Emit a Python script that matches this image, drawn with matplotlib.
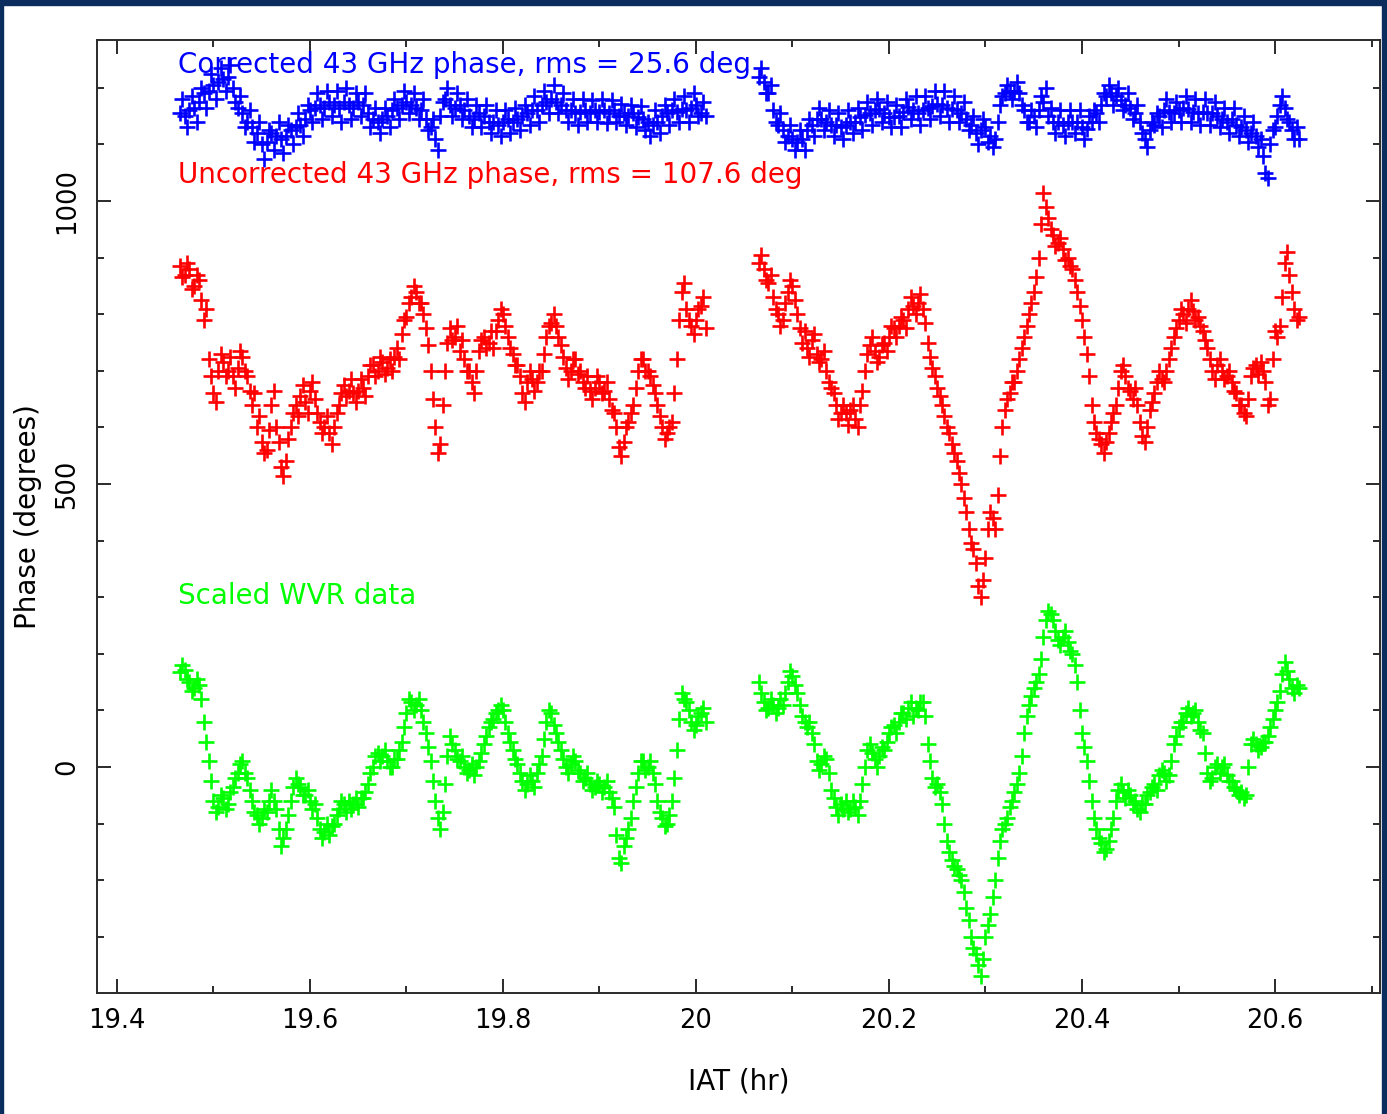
import matplotlib
matplotlib.use("Agg")
import matplotlib.pyplot as plt
from matplotlib.patches import Rectangle

# ---- data ----
t_seg1 = [19.4650, 19.4675, 19.4700, 19.4725, 19.4750, 19.4775, 19.4800, 19.4825,
          19.4850, 19.4875, 19.4900, 19.4925, 19.4950, 19.4975, 19.5000, 19.5025,
          19.5050, 19.5075, 19.5100, 19.5125, 19.5150, 19.5175, 19.5200, 19.5225,
          19.5250, 19.5275, 19.5300, 19.5325, 19.5350, 19.5375, 19.5400, 19.5425,
          19.5450, 19.5475, 19.5500, 19.5525, 19.5550, 19.5575, 19.5600, 19.5625,
          19.5650, 19.5675, 19.5700, 19.5725, 19.5750, 19.5775, 19.5800, 19.5825,
          19.5850, 19.5875, 19.5900, 19.5925, 19.5950, 19.5975, 19.6000, 19.6025,
          19.6050, 19.6075, 19.6100, 19.6125, 19.6150, 19.6175, 19.6200, 19.6225,
          19.6250, 19.6275, 19.6300, 19.6325, 19.6350, 19.6375, 19.6400, 19.6425,
          19.6450, 19.6475, 19.6500, 19.6525, 19.6550, 19.6575, 19.6600, 19.6625,
          19.6650, 19.6675, 19.6700, 19.6725, 19.6750, 19.6775, 19.6800, 19.6825,
          19.6850, 19.6875, 19.6900, 19.6925, 19.6950, 19.6975, 19.7000, 19.7025,
          19.7050, 19.7075, 19.7100, 19.7125, 19.7150, 19.7175, 19.7200, 19.7225,
          19.7250, 19.7275, 19.7300, 19.7325, 19.7350, 19.7375, 19.7400, 19.7425,
          19.7450, 19.7475, 19.7500, 19.7525, 19.7550, 19.7575, 19.7600, 19.7625,
          19.7650, 19.7675, 19.7700, 19.7725, 19.7750, 19.7775, 19.7800, 19.7825,
          19.7850, 19.7875, 19.7900, 19.7925, 19.7950, 19.7975, 19.8000, 19.8025,
          19.8050, 19.8075, 19.8100, 19.8125, 19.8150, 19.8175, 19.8200, 19.8225,
          19.8250, 19.8275, 19.8300, 19.8325, 19.8350, 19.8375, 19.8400, 19.8425,
          19.8450, 19.8475, 19.8500, 19.8525, 19.8550, 19.8575, 19.8600, 19.8625,
          19.8650, 19.8675, 19.8700, 19.8725, 19.8750, 19.8775, 19.8800, 19.8825,
          19.8850, 19.8875, 19.8900, 19.8925, 19.8950, 19.8975, 19.9000, 19.9025,
          19.9050, 19.9075, 19.9100, 19.9125, 19.9150, 19.9175, 19.9200, 19.9225,
          19.9250, 19.9275, 19.9300, 19.9325, 19.9350, 19.9375, 19.9400, 19.9425,
          19.9450, 19.9475, 19.9500, 19.9525, 19.9550, 19.9575, 19.9600, 19.9625,
          19.9650, 19.9675, 19.9700, 19.9725, 19.9750, 19.9775, 19.9800, 19.9825,
          19.9850, 19.9875, 19.9900, 19.9925, 19.9950, 19.9975, 20.0000, 20.0025,
          20.0050, 20.0075, 20.0100]

t_seg2 = [20.0650, 20.0675, 20.0700, 20.0725, 20.0750, 20.0775, 20.0800, 20.0825,
          20.0850, 20.0875, 20.0900, 20.0925, 20.0950, 20.0975, 20.1000, 20.1025,
          20.1050, 20.1075, 20.1100, 20.1125, 20.1150, 20.1175, 20.1200, 20.1225,
          20.1250, 20.1275, 20.1300, 20.1325, 20.1350, 20.1375, 20.1400, 20.1425,
          20.1450, 20.1475, 20.1500, 20.1525, 20.1550, 20.1575, 20.1600, 20.1625,
          20.1650, 20.1675, 20.1700, 20.1725, 20.1750, 20.1775, 20.1800, 20.1825,
          20.1850, 20.1875, 20.1900, 20.1925, 20.1950, 20.1975, 20.2000, 20.2025,
          20.2050, 20.2075, 20.2100, 20.2125, 20.2150, 20.2175, 20.2200, 20.2225,
          20.2250, 20.2275, 20.2300, 20.2325, 20.2350, 20.2375, 20.2400, 20.2425,
          20.2450, 20.2475, 20.2500, 20.2525, 20.2550, 20.2575, 20.2600, 20.2625,
          20.2650, 20.2675, 20.2700, 20.2725, 20.2750, 20.2775, 20.2800, 20.2825,
          20.2850, 20.2875, 20.2900, 20.2925, 20.2950, 20.2975, 20.3000, 20.3025,
          20.3050, 20.3075, 20.3100, 20.3125, 20.3150, 20.3175, 20.3200, 20.3225,
          20.3250, 20.3275, 20.3300, 20.3325, 20.3350, 20.3375, 20.3400, 20.3425,
          20.3450, 20.3475, 20.3500, 20.3525, 20.3550, 20.3575, 20.3600, 20.3625,
          20.3650, 20.3675, 20.3700, 20.3725, 20.3750, 20.3775, 20.3800, 20.3825,
          20.3850, 20.3875, 20.3900, 20.3925, 20.3950, 20.3975, 20.4000, 20.4025,
          20.4050, 20.4075, 20.4100, 20.4125, 20.4150, 20.4175, 20.4200, 20.4225,
          20.4250, 20.4275, 20.4300, 20.4325, 20.4350, 20.4375, 20.4400, 20.4425,
          20.4450, 20.4475, 20.4500, 20.4525, 20.4550, 20.4575, 20.4600, 20.4625,
          20.4650, 20.4675, 20.4700, 20.4725, 20.4750, 20.4775, 20.4800, 20.4825,
          20.4850, 20.4875, 20.4900, 20.4925, 20.4950, 20.4975, 20.5000, 20.5025,
          20.5050, 20.5075, 20.5100, 20.5125, 20.5150, 20.5175, 20.5200, 20.5225,
          20.5250, 20.5275, 20.5300, 20.5325, 20.5350, 20.5375, 20.5400, 20.5425,
          20.5450, 20.5475, 20.5500, 20.5525, 20.5550, 20.5575, 20.5600, 20.5625,
          20.5650, 20.5675, 20.5700, 20.5725, 20.5750, 20.5775, 20.5800, 20.5825,
          20.5850, 20.5875, 20.5900, 20.5925, 20.5950, 20.5975, 20.6000, 20.6025,
          20.6050, 20.6075, 20.6100, 20.6125, 20.6150, 20.6175, 20.6200, 20.6225,
          20.6250]

uncorr_seg1 = [885, 865, 870, 890, 880, 845, 850, 870, 860, 825, 790, 810, 720, 690, 660, 645,
               700, 730, 715, 690, 700, 725, 690, 670, 705, 735, 725, 700, 690, 665, 640, 660,
               600, 620, 575, 555, 560, 595, 640, 665, 600, 575, 530, 515, 540, 580, 600, 625,
               640, 620, 655, 675, 645, 625, 665, 680, 650, 625, 610, 590, 600, 620, 590, 570,
               600, 625, 640, 660, 675, 655, 665, 685, 660, 645, 665, 685, 670, 655, 690, 710,
               710, 690, 700, 725, 715, 695, 705, 720, 700, 725, 740, 720, 765, 790, 795, 820,
               830, 850, 840, 820, 820, 800, 775, 745, 700, 650, 600, 555, 570, 640, 700, 750,
               775, 755, 760, 780, 735, 755, 720, 700, 700, 680, 660, 700, 735, 755, 760, 740,
               750, 770, 740, 770, 790, 810, 800, 780, 760, 740, 730, 710, 710, 690, 660, 645,
               680, 700, 685, 665, 680, 700, 700, 730, 760, 780, 785, 800, 780, 760, 745, 725,
               705, 685, 700, 720, 720, 695, 700, 680, 670, 690, 665, 650, 670, 690, 680, 660,
               665, 680, 650, 630, 625, 600, 565, 550, 575, 600, 610, 625, 640, 670, 700, 720,
               720, 700, 700, 690, 675, 660, 640, 620, 600, 580, 590, 600, 610, 660, 720, 790,
               840, 855, 810, 790, 780, 765, 790, 810, 815, 830, 775]

uncorr_seg2 = [890, 905, 880, 860, 855, 870, 830, 810, 800, 780, 790, 820, 840, 860, 850, 825,
               800, 775, 750, 770, 740, 725, 755, 765, 730, 715, 720, 735, 700, 680, 670, 660,
               640, 615, 625, 640, 625, 605, 630, 640, 615, 600, 640, 665, 700, 730, 745, 760,
               735, 715, 725, 745, 750, 735, 760, 780, 775, 760, 780, 795, 790, 775, 810, 830,
               815, 800, 820, 835, 810, 785, 750, 725, 705, 690, 670, 655, 640, 620, 600, 590,
               570, 555, 540, 520, 500, 475, 450, 420, 395, 385, 360, 320, 300, 330, 370, 420,
               450, 440, 420, 480, 550, 600, 630, 650, 660, 680, 680, 700, 720, 740, 760, 780,
               800, 820, 840, 865, 900, 960, 1015, 990, 970, 950, 940, 920, 925, 935, 915, 895,
               900, 885, 880, 860, 840, 815, 790, 760, 730, 690, 640, 610, 590, 580, 570, 555,
               575, 590, 610, 625, 640, 670, 700, 710, 690, 670, 665, 650, 670, 640, 610, 585,
               575, 600, 630, 645, 660, 680, 700, 685, 680, 700, 720, 740, 760, 775, 790, 810,
               800, 785, 810, 825, 805, 790, 795, 780, 770, 755, 740, 720, 700, 685, 710, 720,
               700, 685, 690, 700, 680, 665, 660, 640, 640, 625, 620, 650, 690, 705, 710, 695,
               715, 700, 680, 640, 650, 720, 770, 760, 780, 830, 890, 910, 870, 840, 810, 790,
               795]

wvr_seg1 = [168, 180, 172, 155, 150, 135, 140, 155, 145, 120, 80, 45, 10, -25, -60, -80,
            -70, -50, -55, -75, -65, -45, -35, -20, -10, 5, 10, -10, -20, -40, -60, -80,
            -85, -100, -90, -75, -80, -60, -40, -60, -75, -110, -140, -125, -110, -85, -60, -35,
            -20, -30, -35, -50, -50, -40, -60, -75, -65, -90, -110, -125, -115, -100, -120, -105,
            -100, -85, -75, -60, -65, -80, -60, -75, -65, -55, -70, -55, -55, -45, -30, -10,
            0, 20, 25, 10, 20, 30, 10, 0, 0, 15, 15, 30, 45, 70, 95, 120,
            115, 100, 110, 120, 100, 80, 60, 35, 10, -25, -60, -90, -110, -80, -30, 20,
            55, 40, 30, 15, 10, 20, 0, -10, -5, 5, -15, 0, 10, 25, 40, 55,
            70, 80, 85, 95, 100, 110, 100, 80, 60, 45, 30, 15, 5, -10, -25, -40,
            -30, -15, -25, -35, -10, 5, 20, 50, 80, 100, 95, 75, 60, 45, 30, 15,
            0, -10, 5, 20, 10, -5, -10, -25, -20, -10, -30, -40, -35, -25, -30, -45,
            -35, -25, -45, -55, -70, -120, -160, -170, -140, -125, -110, -90, -60, -35, -10, 10,
            10, -5, 0, 10, -10, -30, -60, -80, -90, -105, -100, -85, -60, -20, 30, 85,
            130, 120, 115, 100, 80, 65, 75, 90, 95, 105, 80]

wvr_seg2 = [150, 130, 115, 100, 105, 120, 110, 95, 105, 120, 110, 130, 150, 170, 160, 145,
            130, 110, 90, 80, 70, 80, 60, 40, 10, -5, 5, 20, 15, -10, -40, -55,
            -70, -85, -65, -75, -60, -80, -75, -60, -70, -85, -60, -30, 0, 30, 40, 25,
            15, 0, 20, 35, 30, 45, 60, 70, 75, 60, 80, 95, 95, 85, 105, 115,
            90, 105, 100, 115, 115, 90, 40, 10, -20, -35, -30, -45, -65, -100, -130, -150,
            -165, -175, -180, -190, -200, -220, -250, -270, -300, -320, -330, -350, -370, -340, -300, -280,
            -260, -230, -200, -160, -130, -110, -100, -90, -70, -60, -45, -30, -10, 20, 60, 90,
            110, 125, 140, 150, 165, 190, 230, 260, 275, 270, 260, 240, 225, 215, 230, 240,
            220, 205, 200, 180, 150, 100, 60, 35, 10, -25, -60, -90, -110, -125, -135, -150,
            -145, -130, -110, -90, -60, -40, -30, -45, -55, -40, -50, -65, -60, -75, -80, -65,
            -65, -50, -45, -35, -30, -40, -15, -5, -10, -25, -15, 10, 40, 55, 70, 80,
            80, 95, 105, 90, 95, 100, 80, 65, 60, 25, -10, -25, -20, 0, 5, -10,
            0, 5, -15, -25, -25, -35, -40, -50, -45, -55, -50, 0, 40, 50, 40, 30,
            35, 45, 45, 55, 70, 85, 100, 115, 135, 165, 185, 170, 155, 140, 130, 145,
            140]

corr_seg1 = [1155, 1180, 1150, 1130, 1160, 1185, 1165, 1140, 1175, 1200, 1190, 1165, 1195, 1225, 1205, 1180,
             1210, 1235, 1215, 1195, 1220, 1240, 1200, 1175, 1165, 1185, 1155, 1130, 1140, 1160, 1130, 1105,
             1120, 1140, 1100, 1075, 1105, 1125, 1120, 1090, 1115, 1140, 1110, 1085, 1115, 1135, 1125, 1100,
             1130, 1155, 1135, 1115, 1145, 1170, 1160, 1140, 1165, 1190, 1170, 1145, 1165, 1195, 1175, 1150,
             1170, 1195, 1165, 1140, 1175, 1200, 1170, 1145, 1165, 1190, 1175, 1150, 1170, 1190, 1155, 1130,
             1145, 1165, 1140, 1120, 1145, 1165, 1150, 1130, 1160, 1180, 1165, 1145, 1170, 1195, 1175, 1155,
             1170, 1190, 1165, 1145, 1160, 1180, 1145, 1125, 1130, 1145, 1110, 1090, 1150, 1175, 1180, 1200,
             1170, 1150, 1165, 1190, 1170, 1145, 1160, 1180, 1150, 1130, 1145, 1170, 1155, 1130, 1150, 1170,
             1140, 1120, 1140, 1160, 1135, 1115, 1140, 1160, 1145, 1120, 1140, 1165, 1145, 1125, 1150, 1170,
             1155, 1135, 1160, 1185, 1160, 1140, 1170, 1195, 1175, 1155, 1180, 1205, 1175, 1155, 1170, 1190,
             1160, 1140, 1160, 1180, 1155, 1135, 1158, 1180, 1160, 1140, 1155, 1178, 1160, 1140, 1158, 1180,
             1160, 1138, 1155, 1178, 1160, 1140, 1150, 1172, 1155, 1135, 1150, 1170, 1155, 1130, 1148, 1168,
             1145, 1125, 1140, 1115, 1135, 1160, 1140, 1120, 1150, 1170, 1155, 1135, 1160, 1180, 1158, 1140,
             1162, 1185, 1160, 1140, 1165, 1190, 1170, 1150, 1155, 1175, 1150]

corr_seg2 = [1220, 1235, 1210, 1190, 1190, 1205, 1160, 1140, 1135, 1155, 1125, 1105, 1115, 1135, 1110, 1090,
             1105, 1125, 1110, 1090, 1125, 1145, 1135, 1115, 1145, 1165, 1145, 1125, 1140, 1160, 1135, 1115,
             1135, 1155, 1130, 1110, 1135, 1160, 1140, 1120, 1140, 1165, 1148, 1125, 1152, 1175, 1155, 1135,
             1160, 1180, 1162, 1140, 1155, 1175, 1148, 1130, 1148, 1170, 1150, 1130, 1158, 1180, 1166, 1145,
             1160, 1185, 1155, 1135, 1160, 1185, 1165, 1145, 1168, 1195, 1172, 1150, 1170, 1195, 1165, 1140,
             1162, 1185, 1160, 1140, 1155, 1175, 1145, 1125, 1135, 1150, 1120, 1100, 1125, 1145, 1130, 1105,
             1115, 1095, 1110, 1140, 1170, 1185, 1190, 1205, 1195, 1180, 1195, 1210, 1190, 1170, 1160, 1140,
             1140, 1160, 1150, 1130, 1160, 1185, 1175, 1200, 1150, 1165, 1140, 1120, 1140, 1160, 1135, 1115,
             1140, 1160, 1140, 1120, 1140, 1160, 1130, 1110, 1128, 1150, 1140, 1160, 1155, 1140, 1170, 1190,
             1185, 1205, 1190, 1170, 1185, 1200, 1178, 1160, 1170, 1190, 1165, 1145, 1155, 1170, 1140, 1120,
             1110, 1095, 1125, 1140, 1135, 1155, 1150, 1130, 1160, 1180, 1158, 1140, 1155, 1175, 1160, 1140,
             1165, 1185, 1162, 1140, 1158, 1180, 1155, 1135, 1158, 1180, 1155, 1135, 1155, 1175, 1150, 1130,
             1145, 1165, 1140, 1120, 1145, 1165, 1135, 1115, 1130, 1150, 1125, 1105, 1120, 1140, 1115, 1095,
             1110, 1080, 1050, 1040, 1100, 1125, 1130, 1150, 1170, 1185, 1165, 1145, 1140, 1125, 1110, 1130,
             1110]

label_corr = "Corrected 43 GHz phase, rms = 25.6 deg"
label_uncorr = "Uncorrected 43 GHz phase, rms = 107.6 deg"
label_wvr = "Scaled WVR data"
x_label = "IAT (hr)"
y_label = "Phase (degrees)"
x_ticks = [19.4, 19.6, 19.8, 20.0, 20.2, 20.4, 20.6]
x_ticklabels = ["19.4", "19.6", "19.8", "20", "20.2", "20.4", "20.6"]
x_minor = [19.5, 19.7, 19.9, 20.1, 20.3, 20.5, 20.7]
y_ticks = [0, 500, 1000]
y_ticklabels = ["0", "500", "1000"]
y_minor = [-300, -200, -100, 100, 200, 300, 400, 600, 700, 800, 900, 1100, 1200]

# ---- figure ----
W, H = 1387, 1114
fig = plt.figure(figsize=(W / 100, H / 100), dpi=100)
fig.patch.set_facecolor("white")

navy = "#0b2d5e"
fig.patches.append(Rectangle((0, 1 - 5 / H), 1, 5 / H, transform=fig.transFigure,
                             color=navy, zorder=0))
fig.patches.append(Rectangle((0, 0), 3 / W, 1, transform=fig.transFigure,
                             color=navy, zorder=0))
fig.patches.append(Rectangle((1 - 5 / W, 0), 5 / W, 1, transform=fig.transFigure,
                             color=navy, zorder=0))

ax = fig.add_axes([97 / W, (H - 993) / H, (1380 - 97) / W, (993 - 40) / H])
ax.set_xlim(19.3793, 20.7088)
ax.set_ylim(-399.3, 1284.5)

mk = dict(linestyle="none", marker="+", markersize=12, markeredgewidth=1.9)
for t, v in ((t_seg1, corr_seg1), (t_seg2, corr_seg2)):
    ax.plot(t, v, color="#0000ff", **mk)
for t, v in ((t_seg1, uncorr_seg1), (t_seg2, uncorr_seg2)):
    ax.plot(t, v, color="#ff0000", **mk)
for t, v in ((t_seg1, wvr_seg1), (t_seg2, wvr_seg2)):
    ax.plot(t, v, color="#00ff00", **mk)

font = dict(family="DejaVu Sans", fontsize=20)
tfont = dict(family="DejaVu Sans", fontsize=18.5)
ax.text(19.463, 1240, label_corr, color="#0000ff", va="center", ha="left", **font)
ax.text(19.463, 1046, label_uncorr, color="#ff0000", va="center", ha="left", **font)
ax.text(19.463, 302, label_wvr, color="#00ff00", va="center", ha="left", **font)

ax.set_xticks(x_ticks)
ax.set_xticklabels(x_ticklabels, **tfont)
ax.set_xticks(x_minor, minor=True)
ax.set_yticks(y_ticks)
ax.set_yticklabels(y_ticklabels, **tfont)
ax.set_yticks(y_minor, minor=True)
for lab in ax.get_yticklabels():
    lab.set_rotation(90)
    lab.set_va("center")

spine_col = "#2a2a2a"
for s in ax.spines.values():
    s.set_color(spine_col)
    s.set_linewidth(1.4)
ax.tick_params(which="both", direction="in", top=True, right=True, color=spine_col, width=1.4)
ax.tick_params(which="major", length=10)
ax.tick_params(which="minor", length=5)
ax.tick_params(axis="x", which="major", pad=11)
ax.tick_params(axis="y", which="major", pad=12)

ax.set_xlabel(x_label, labelpad=24, **font)
ax.set_ylabel(y_label, labelpad=9, **font)

fig.savefig("out.png", dpi=100, facecolor=fig.get_facecolor())
